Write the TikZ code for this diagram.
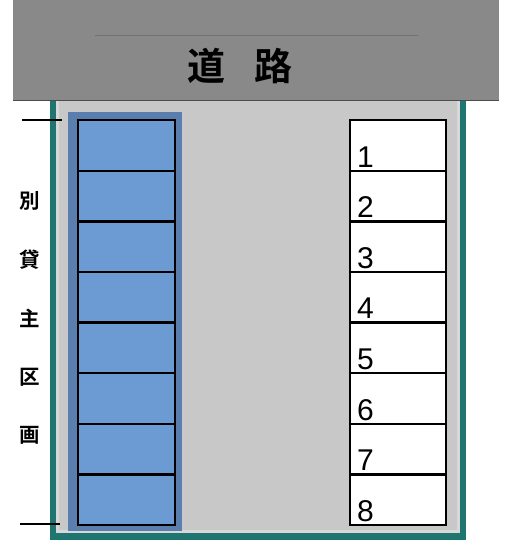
\documentclass[tikz,border=0pt]{standalone}
\usepackage{fontspec}
\newfontfamily\cjk{Noto Sans CJK JP}[BoldFont={Noto Sans CJK JP Bold}]
\setmainfont{Liberation Sans}
\definecolor{road}{HTML}{898989}
\definecolor{teal}{HTML}{1F7570}
\definecolor{lot}{HTML}{C8C8C8}
\definecolor{bluebg}{HTML}{5A7FAE}
\definecolor{bluecell}{HTML}{6C9BD3}
\tikzset{
  cellb/.style={draw=black, line width=2.4pt, fill=bluecell, minimum width=97pt, minimum height=50.6pt, inner sep=0pt, anchor=north west},
  cellw/.style={draw=black, line width=2.4pt, fill=white, minimum width=96pt, minimum height=50.6pt, inner sep=0pt, anchor=north west},
  num/.style={font=\fontsize{30}{30}\selectfont, anchor=base west, inner sep=0pt},
  side/.style={font=\cjk\bfseries\fontsize{20.5}{20.5}\selectfont, inner sep=0pt},
  tick/.style={line width=1.3pt, black}
}
\begin{document}
\begin{tikzpicture}[x=1pt,y=-1pt]
\useasboundingbox (0,0) rectangle (511,552);
\fill[white] (0,0) rectangle (511,552);
% lot frame
\fill[teal] (50,95) rectangle (466,540);
\fill[lot!70!white] (56,95) rectangle (460,533);
\fill[lot] (59,95) rectangle (457,530);
% road
\fill[road] (13,0) rectangle (499,100);
\draw[black!70, line width=0.8pt] (13,100) -- (499,100);
\draw[road!120!white, line width=0.8pt] (95,35) -- (418,35);
\node[font=\cjk\bfseries\fontsize{38}{38}\selectfont, inner sep=0pt] (road) at (240,66) {道\hspace{0.75em}路};
% blue background
\fill[bluebg] (68,112) rectangle (182,531);
% cells
\foreach \i in {1,...,8}{
  \node[cellb] (b\i) at (77,{119+(\i-1)*50.6}) {};
  \node[cellw] (w\i) at (349,{119+(\i-1)*50.6}) {};
  \node[num] (n\i) at ([xshift=8pt,yshift=5pt]w\i.south west) {\i};
}
% side labels
\node[side] (s1) at (30,201) {別};
\node[side] (s2) at (30,260) {貸};
\node[side] (s3) at (30,318) {主};
\node[side] (s4) at (30,377) {区};
\node[side] (s5) at (30,435) {画};
\coordinate (t1a) at (22,120); \coordinate (t1b) at (62,120);
\coordinate (t2a) at (20,524); \coordinate (t2b) at (60,524);
\draw[tick] (t1a) -- (t1b);
\draw[tick] (t2a) -- (t2b);
\end{tikzpicture}
\end{document}
